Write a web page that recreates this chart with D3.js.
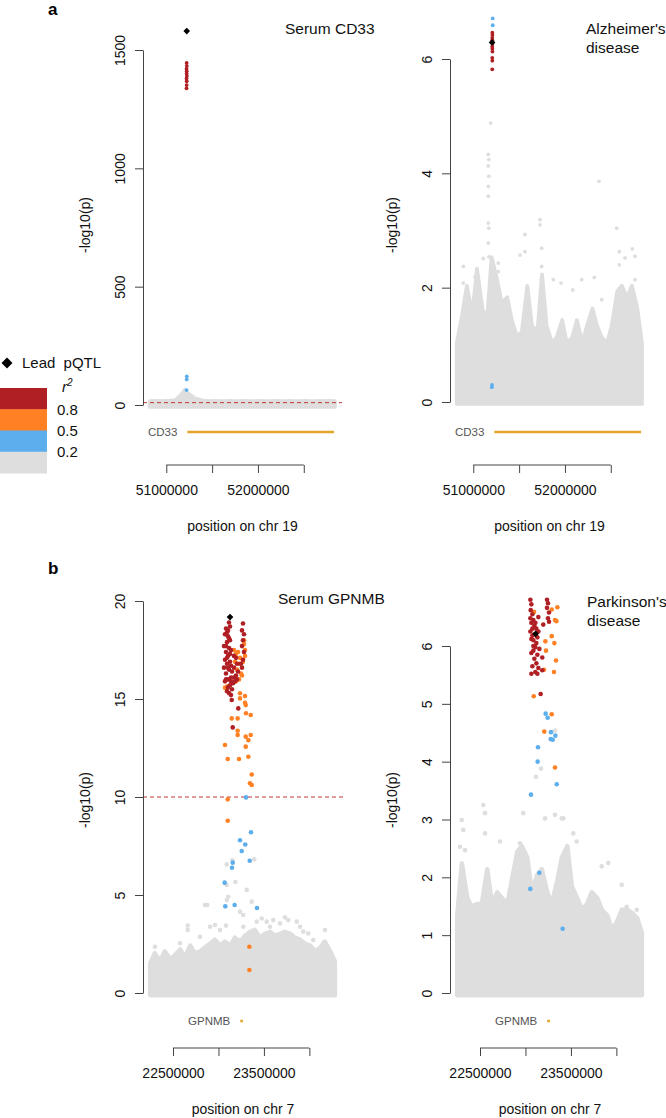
<!DOCTYPE html>
<html>
<head>
<meta charset="utf-8">
<script src="https://cdn.jsdelivr.net/npm/d3@7"></script>
<style>
body { margin: 0; background: #fff; }
svg { display: block; font-family: "Liberation Sans", Arial, Helvetica, sans-serif; }
</style>
</head>
<body>
<div id="chart"></div>
<script>
// LD classes: 0 = r2 < 0.2, 1 = 0.2-0.5, 2 = 0.5-0.8, 3 = > 0.8
const ldColors = ["#dedede", "#5daeec", "#ff8124", "#b01f24"];
const legendOrder = [3, 2, 1, 0];
const legendBreaks = ["0.8", "0.5", "0.2"];

// positions in Mb
const chr19Bins = [50.82, 50.88, 50.93, 50.99, 51.04, 51.10, 51.15, 51.20, 51.26, 51.31,
  51.37, 51.42, 51.48, 51.53, 51.59, 51.64, 51.70, 51.75, 51.80, 51.86,
  51.91, 51.97, 52.02, 52.08, 52.13, 52.19, 52.24, 52.30, 52.35, 52.40,
  52.46, 52.51, 52.57, 52.62, 52.68, 52.73, 52.79, 52.84];
const chr7Bins = [22.25, 22.30, 22.36, 22.41, 22.47, 22.52, 22.58, 22.63, 22.69, 22.74,
  22.80, 22.85, 22.91, 22.96, 23.02, 23.07, 23.13, 23.18, 23.24, 23.29,
  23.35, 23.40, 23.46, 23.51, 23.57, 23.62, 23.68, 23.73, 23.79, 23.84,
  23.90, 23.95, 24.01, 24.06, 24.12, 24.17, 24.23, 24.28];

// height of the dense grey cloud of background SNPs per bin (-log10 p)
const cd33Background = [8, 9, 8, 9, 10, 12, 30, 55, 35, 20, 14, 9, 8, 9, 8, 8, 9, 8, 8, 9,
  8, 8, 9, 8, 8, 9, 8, 8, 9, 8, 8, 9, 8, 8, 9, 8, 9, 8];
const adBackground = [1.0, 1.5, 2.0, 1.5, 2.3, 1.6, 1.4, 2.5, 2.1, 1.7, 1.8, 1.4, 1.1, 1.2, 2.0, 1.3, 1.2, 2.2, 1.3, 1.0,
  1.1, 1.4, 1.0, 1.1, 1.4, 1.0, 1.3, 1.6, 1.3, 1.1, 1.0, 1.3, 1.9, 2.0, 1.8, 2.0, 1.6, 1.0];
const gpnmbBackground = [1.4, 1.9, 1.5, 2.0, 1.6, 1.8, 2.1, 1.7, 2.3, 1.9, 2.0, 2.2, 2.4, 2.6, 2.3, 2.5, 2.3, 2.7, 2.5, 2.8,
  3.0, 3.1, 2.7, 2.9, 3.0, 2.8, 2.9, 3.0, 2.9, 2.7, 2.6, 2.4, 2.3, 2.0, 2.2, 2.5, 2.0, 1.5];
const pdBackground = [1.3, 2.2, 1.6, 1.45, 1.5, 1.5, 2.1, 1.5, 1.7, 1.6, 1.5, 1.9, 2.4, 2.5, 2.3, 1.7, 2.0, 2.1, 1.7, 1.5,
  1.9, 2.3, 2.5, 1.8, 1.6, 1.4, 1.5, 1.7, 1.6, 1.4, 1.3, 1.05, 1.2, 1.4, 1.4, 1.35, 1.25, 1.0];

// individual SNPs [position Mb, -log10 p, LD class]
const cd33Points = [
  [51.222, 1445, 3], [51.224, 1432, 3], [51.221, 1420, 3], [51.223, 1410, 3], [51.222, 1400, 3],
  [51.224, 1390, 3], [51.221, 1380, 3], [51.223, 1368, 3], [51.222, 1352, 3], [51.221, 1338, 3],
  [51.224, 121, 1], [51.223, 108, 1], [51.221, 63, 1]
];
const adPoints = [
  [51.212, 6.71, 1], [51.212, 6.59, 1], [51.205, 0.30, 1], [51.203, 0.26, 1],
  [51.208, 6.46, 3], [51.209, 6.42, 3], [51.207, 6.37, 3], [51.208, 6.33, 3], [51.209, 6.27, 3],
  [51.207, 6.22, 3], [51.208, 6.18, 3], [51.209, 6.13, 3], [51.207, 6.02, 3], [51.208, 5.97, 3], [51.207, 5.82, 3],
  [51.190, 4.88, 0], [51.164, 4.33, 0], [51.170, 4.24, 0], [51.164, 4.13, 0], [51.170, 3.95, 0],
  [51.164, 3.77, 0], [51.164, 3.60, 0], [51.164, 3.13, 0], [51.170, 3.04, 0], [51.164, 2.78, 0], [51.170, 2.54, 0],
  [50.891, 2.37, 0], [50.891, 2.08, 0], [51.019, 2.19, 0], [51.109, 2.51, 0], [51.273, 2.43, 0], [51.273, 2.28, 0],
  [51.510, 2.57, 0], [51.564, 2.93, 0], [51.564, 2.63, 0], [51.583, 1.96, 0], [51.728, 3.19, 0], [51.728, 3.10, 0],
  [51.746, 2.69, 0], [51.746, 2.37, 0], [51.740, 2.14, 0], [51.873, 2.14, 0], [51.957, 2.08, 0], [52.085, 1.96, 0],
  [52.183, 2.14, 0], [52.320, 2.18, 0], [52.401, 1.79, 0], [52.565, 3.04, 0], [52.593, 2.63, 0], [52.593, 2.40, 0],
  [52.655, 2.52, 0], [52.735, 2.68, 0], [52.764, 2.55, 0], [52.764, 2.14, 0], [52.372, 3.86, 0]
];
const gpnmbPoints = [
  [23.116, 18.9, 3], [23.127, 18.7, 3], [23.105, 18.5, 3], [23.083, 18.6, 3], [23.072, 18.3, 3], [23.105, 18.2, 3],
  [23.127, 18.0, 3], [23.094, 17.9, 3], [23.061, 17.7, 3], [23.116, 17.6, 3], [23.138, 17.5, 3], [23.083, 17.4, 3],
  [23.105, 17.2, 3], [23.072, 17.0, 3], [23.127, 16.9, 3], [23.094, 16.8, 3], [23.061, 16.6, 3], [23.116, 16.5, 3],
  [23.149, 16.4, 3], [23.083, 16.3, 3], [23.171, 16.6, 3], [23.193, 16.2, 3], [23.138, 16.1, 3], [23.105, 16.0, 3],
  [23.072, 15.9, 3], [23.160, 15.8, 3], [23.127, 15.7, 3], [23.182, 15.9, 3], [23.149, 15.5, 3], [23.116, 15.3, 3],
  [23.204, 16.0, 3], [23.094, 18.4, 3], [23.116, 18.1, 3], [23.083, 17.7, 3], [23.127, 17.3, 3], [23.094, 17.1, 3],
  [23.138, 16.7, 3], [23.105, 16.6, 3], [23.083, 16.0, 3], [23.138, 15.9, 3], [23.171, 16.1, 3], [23.105, 15.6, 3],
  [23.138, 15.2, 3], [23.094, 15.4, 3],
  [23.270, 18.85, 3], [23.259, 18.5, 3], [23.281, 18.3, 3], [23.270, 18.0, 3], [23.259, 17.7, 3], [23.281, 17.4, 3],
  [23.270, 17.0, 3], [23.248, 16.8, 3], [23.259, 16.6, 3], [23.204, 16.8, 3], [23.193, 17.1, 3], [23.215, 16.4, 3],
  [23.171, 17.2, 3], [23.218, 14.52, 3], [23.157, 13.55, 3], [23.146, 14.95, 3],
  [23.171, 17.5, 2], [23.193, 17.3, 2], [23.215, 17.4, 2], [23.237, 17.1, 2], [23.182, 16.9, 2], [23.226, 16.8, 2],
  [23.204, 16.5, 2], [23.248, 16.3, 2], [23.226, 16.0, 2], [23.193, 15.9, 2], [23.281, 18.0, 2], [23.292, 17.5, 2],
  [23.259, 16.2, 2], [23.281, 17.8, 2], [23.292, 17.2, 2], [23.270, 16.9, 2],
  [23.072, 15.58, 2], [23.100, 15.65, 2], [23.237, 15.29, 2], [23.237, 15.03, 2], [23.292, 15.15, 2], [23.292, 14.81, 2],
  [23.300, 14.69, 2], [23.146, 14.01, 2], [23.211, 14.01, 2], [23.303, 14.27, 2], [23.355, 14.18, 2], [23.211, 13.38, 2],
  [23.211, 13.16, 2], [23.300, 13.08, 2], [23.355, 13.16, 2], [23.329, 12.90, 2], [23.072, 12.65, 2], [23.300, 12.57, 2],
  [23.102, 11.94, 2], [23.226, 11.94, 2], [23.329, 12.05, 2], [23.366, 11.15, 2], [23.347, 10.70, 2], [23.366, 10.61, 2],
  [23.102, 9.88, 2], [23.102, 8.79, 2], [23.340, 2.36, 2], [23.340, 1.17, 2],
  [23.303, 9.98, 1], [23.358, 8.20, 1], [23.237, 7.79, 1], [23.295, 7.58, 1], [23.256, 7.24, 1], [23.344, 6.75, 1],
  [23.157, 6.65, 1], [23.149, 6.39, 1], [23.068, 5.63, 1], [23.075, 4.42, 1], [23.178, 4.49, 1], [23.424, 4.34, 1],
  [23.394, 6.82, 0], [23.091, 6.56, 0], [23.153, 6.78, 0], [23.186, 5.66, 0], [23.091, 5.51, 0], [23.311, 5.26, 0],
  [23.091, 4.74, 0], [23.108, 4.91, 0], [23.237, 4.15, 0], [23.273, 3.98, 0], [23.366, 4.66, 0], [22.852, 4.49, 0],
  [22.877, 4.49, 0], [22.662, 3.44, 0], [22.662, 3.21, 0], [22.907, 3.38, 0], [22.962, 3.47, 0], [23.083, 3.44, 0],
  [22.797, 2.87, 0], [22.577, 2.54, 0], [22.302, 2.36, 0], [23.476, 3.80, 0], [23.531, 3.64, 0], [23.603, 3.72, 0],
  [23.732, 3.86, 0], [23.768, 3.72, 0], [23.861, 3.64, 0], [23.897, 3.38, 0], [23.933, 3.13, 0], [23.988, 3.04, 0],
  [24.172, 3.21, 0], [24.043, 2.70, 0], [23.366, 3.13, 0], [23.421, 3.64, 0], [23.567, 3.38, 0], [23.677, 3.55, 0],
  [23.273, 3.38, 0], [23.017, 3.21, 0]
];
const pdPoints = [
  [23.054, 6.80, 3], [23.065, 6.72, 3], [23.058, 6.62, 3], [23.076, 6.55, 3], [23.054, 6.48, 3], [23.087, 6.45, 3],
  [23.065, 6.40, 3], [23.098, 6.35, 3], [23.076, 6.30, 3], [23.120, 6.30, 3], [23.054, 6.25, 3], [23.098, 6.20, 3],
  [23.131, 6.15, 3], [23.087, 6.10, 3], [23.065, 6.12, 3], [23.120, 6.05, 3], [23.142, 6.50, 3], [23.196, 6.37, 3],
  [23.109, 5.98, 3], [23.087, 5.92, 3], [23.131, 5.85, 3], [23.098, 5.78, 3], [23.120, 5.70, 3], [23.076, 5.65, 3],
  [23.142, 5.62, 3], [23.109, 5.55, 3], [23.131, 5.52, 3], [23.065, 5.52, 3], [23.185, 5.58, 3], [23.185, 5.80, 3],
  [23.076, 6.18, 3], [23.109, 6.40, 3], [23.087, 6.00, 3], [23.065, 5.88, 3], [23.142, 6.25, 3], [23.153, 5.95, 3],
  [23.237, 6.80, 3], [23.248, 6.74, 3], [23.237, 6.66, 3], [23.259, 6.58, 3], [23.248, 6.48, 3], [23.259, 6.42, 3],
  [23.167, 5.17, 3],
  [23.351, 6.67, 2], [23.289, 6.63, 2], [23.094, 6.59, 2], [23.325, 6.45, 2], [23.340, 6.43, 2], [23.289, 6.17, 2],
  [23.318, 6.05, 2], [23.219, 6.08, 2], [23.226, 5.92, 2], [23.336, 5.75, 2], [23.204, 5.59, 2], [23.314, 5.55, 2],
  [23.091, 5.13, 2], [23.289, 4.82, 2], [23.207, 4.52, 2], [23.325, 3.90, 2],
  [23.222, 4.83, 1], [23.244, 4.76, 1], [23.281, 4.51, 1], [23.329, 4.45, 1], [23.278, 4.39, 1], [23.300, 4.38, 1],
  [23.138, 4.25, 1], [23.134, 4.00, 1], [23.344, 3.61, 1], [23.061, 3.43, 1], [23.053, 1.80, 1], [23.152, 2.08, 1],
  [23.409, 1.11, 1],
  [23.325, 4.54, 0], [23.171, 3.88, 0], [23.116, 3.74, 0], [23.416, 3.02, 0], [22.299, 2.99, 0], [22.316, 2.82, 0],
  [22.280, 2.53, 0], [22.335, 2.47, 0], [22.537, 3.25, 0], [22.555, 3.11, 0], [22.555, 2.76, 0], [22.720, 2.62, 0],
  [22.976, 3.11, 0], [22.940, 2.59, 0], [23.215, 3.02, 0], [23.325, 3.08, 0], [23.399, 3.02, 0], [23.526, 2.76, 0],
  [23.563, 2.62, 0], [23.839, 2.19, 0], [23.911, 2.25, 0], [24.059, 1.87, 0], [24.114, 1.49, 0], [24.224, 1.44, 0]
];

// lead pQTL [position Mb, -log10 p]
const cd33Lead = [51.223, 1580];
const adLead = [51.205, 6.29];
const gpnmbLead = [23.127, 19.18];
const pdLead = [23.112, 6.21];

// genes [start Mb, end Mb]
const cd33Gene = [51.23, 52.83];
const gpnmbGene = [23.24, 23.27];

const cd33Ticks = [0, 500, 1000, 1500];
const adTicks = [0, 2, 4, 6];
const gpnmbTicks = [0, 5, 10, 15, 20];
const pdTicks = [0, 1, 2, 3, 4, 5, 6];
const chr19Ticks = [51000000, 51500000, 52000000, 52500000];
const chr19Labels = [51000000, 52000000];
const chr7Ticks = [22500000, 23000000, 23500000, 24000000];
const chr7Labels = [22500000, 23500000];

const width = 666, height = 1118;
const axisColor = "#444";
const geneColor = "#e3a52a";

const svg = d3.select("#chart").append("svg")
    .attr("width", width)
    .attr("height", height);

const panels = [
  {title: ["Serum CD33"], tx: 285, ty: 34, bins: chr19Bins, bg: cd33Background, pts: cd33Points, lead: cd33Lead,
   xDomain: [50.746, 52.917], left: 143, right: 342, yTicks: cd33Ticks, yRange: [405, 50], threshold: 10,
   xTicks: chr19Ticks, xLabels: chr19Labels, axisY: 465, xTitle: "position on chr 19",
   gene: cd33Gene, geneName: "CD33", geneY: 432, labelY: 225, r: 1.9},
  {title: ["Alzheimer's", "disease"], tx: 586, ty: 34, bins: chr19Bins, bg: adBackground, pts: adPoints, lead: adLead,
   xDomain: [50.746, 52.917], left: 450, right: 649, yTicks: adTicks, yRange: [402, 59], threshold: null,
   xTicks: chr19Ticks, xLabels: chr19Labels, axisY: 465, xTitle: "position on chr 19",
   gene: cd33Gene, geneName: "CD33", geneY: 432, labelY: 225, r: 1.9},
  {title: ["Serum GPNMB"], tx: 278, ty: 604, bins: chr7Bins, bg: gpnmbBackground, pts: gpnmbPoints, lead: gpnmbLead,
   xDomain: [22.17, 24.37], left: 143, right: 343, yTicks: gpnmbTicks, yRange: [993, 601], threshold: 10,
   xTicks: chr7Ticks, xLabels: chr7Labels, axisY: 1048, xTitle: "position on chr 7",
   gene: gpnmbGene, geneName: "GPNMB", geneY: 1021, labelY: 800, r: 2.3},
  {title: ["Parkinson's", "disease"], tx: 587, ty: 607, bins: chr7Bins, bg: pdBackground, pts: pdPoints, lead: pdLead,
   xDomain: [22.17, 24.37], left: 450, right: 650, yTicks: pdTicks, yRange: [993, 646], threshold: null,
   xTicks: chr7Ticks, xLabels: chr7Labels, axisY: 1048, xTitle: "position on chr 7",
   gene: gpnmbGene, geneName: "GPNMB", geneY: 1021, labelY: 800, r: 2.3}
];

function drawPanel(p) {
  const g = svg.append("g");
  const x = d3.scaleLinear().domain(p.xDomain.map(d => d * 1e6)).range([p.left, p.right]);
  const y = d3.scaleLinear().domain([0, p.yTicks[p.yTicks.length - 1]]).range(p.yRange);

  /* dense background SNPs: a grey cloud whose top follows the bin heights */
  const cloud = d3.area()
    .x(d => x(d * 1e6))
    .y0(y(0) + p.r)
    .y1((d, i) => y(p.bg[i]) - p.r)
    .curve(d3.curveLinear);
  g.append("path")
    .datum(p.bins)
    .attr("d", cloud)
    .attr("fill", ldColors[0])
    .attr("stroke", ldColors[0])
    .attr("stroke-width", 2 * p.r)
    .attr("stroke-linejoin", "round");

  if (p.threshold !== null) {
    g.append("line")
      .attr("x1", p.left).attr("x2", p.right)
      .attr("y1", y(p.threshold)).attr("y2", y(p.threshold))
      .attr("stroke", "#c0393b")
      .attr("stroke-width", 1)
      .attr("stroke-dasharray", "4,3");
  }

  const pts = p.pts.slice().sort((a, b) => a[2] - b[2]);
  g.append("g").selectAll("circle")
    .data(pts)
    .join("circle")
    .attr("cx", d => x(d[0] * 1e6))
    .attr("cy", d => y(d[1]))
    .attr("r", p.r)
    .attr("fill", d => ldColors[d[2]]);

  g.append("path")
    .attr("d", d3.symbol(d3.symbolSquare, 22)())
    .attr("transform", "translate(" + x(p.lead[0] * 1e6) + "," + y(p.lead[1]) + ") rotate(45)")
    .attr("fill", "#000");

  /* y axis, labels parallel to the axis like base R */
  const ya = g.append("g")
    .attr("transform", "translate(" + p.left + ",0)")
    .call(d3.axisLeft(y).tickValues(p.yTicks).tickSize(8).tickSizeOuter(0).tickFormat(d3.format("d")));
  ya.select(".domain").attr("stroke", axisColor);
  ya.selectAll(".tick line").attr("stroke", axisColor);
  ya.selectAll(".tick text")
    .attr("transform", "rotate(-90)")
    .attr("x", 0).attr("y", -18).attr("dy", 0)
    .attr("text-anchor", "middle")
    .attr("font-size", 14)
    .attr("font-family", "Liberation Sans, Arial, sans-serif")
    .attr("fill", "#111");

  g.append("text")
    .attr("transform", "translate(" + (p.left - 53) + "," + p.labelY + ") rotate(-90)")
    .attr("text-anchor", "middle")
    .attr("font-size", 14)
    .attr("fill", "#111")
    .text("-log10(p)");

  /* x axis sits below the gene track */
  const xa = g.append("g")
    .attr("transform", "translate(0," + p.axisY + ")")
    .call(d3.axisBottom(x).tickValues(p.xTicks).tickSize(8).tickSizeOuter(0)
      .tickFormat(d => p.xLabels.includes(d) ? String(d) : ""));
  xa.select(".domain").remove();
  xa.append("line")
    .attr("x1", x(p.xTicks[0])).attr("x2", x(p.xTicks[p.xTicks.length - 1]))
    .attr("stroke", axisColor);
  xa.selectAll(".tick line").attr("stroke", axisColor);
  xa.selectAll(".tick text")
    .attr("y", 20)
    .attr("font-size", 14)
    .attr("font-family", "Liberation Sans, Arial, sans-serif")
    .attr("fill", "#111");

  g.append("text")
    .attr("x", (p.left + p.right) / 2)
    .attr("y", p.axisY + 66)
    .attr("text-anchor", "middle")
    .attr("font-size", 14)
    .attr("fill", "#111")
    .text(p.xTitle);

  /* gene track */
  g.append("line")
    .attr("x1", x(p.gene[0] * 1e6)).attr("x2", x(p.gene[1] * 1e6))
    .attr("y1", p.geneY).attr("y2", p.geneY)
    .attr("stroke", geneColor)
    .attr("stroke-width", 2.5);
  g.append("text")
    .attr("x", x(p.gene[0] * 1e6) - 10)
    .attr("y", p.geneY + 4)
    .attr("text-anchor", "end")
    .attr("font-size", 11.5)
    .attr("fill", "#555")
    .text(p.geneName);

  const t = g.append("text")
    .attr("x", p.tx).attr("y", p.ty)
    .attr("font-size", 15.5)
    .attr("fill", "#111");
  t.selectAll("tspan")
    .data(p.title)
    .join("tspan")
    .attr("x", p.tx)
    .attr("dy", (d, i) => i === 0 ? 0 : 18.5)
    .text(d => d);
}

panels.forEach(drawPanel);

svg.append("text").attr("x", 48).attr("y", 15).attr("font-size", 17).attr("font-weight", "bold").text("a");
svg.append("text").attr("x", 48).attr("y", 574).attr("font-size", 17).attr("font-weight", "bold").text("b");

/* legend */
const legend = svg.append("g");
legend.append("path")
  .attr("d", d3.symbol(d3.symbolSquare, 60)())
  .attr("transform", "translate(7,363) rotate(45)")
  .attr("fill", "#000");
legend.append("text")
  .attr("x", 22).attr("y", 368)
  .attr("font-size", 15)
  .attr("word-spacing", 4)
  .attr("fill", "#111")
  .text("Lead pQTL");
const r2 = legend.append("text")
  .attr("x", 62).attr("y", 392)
  .attr("font-size", 15)
  .attr("font-style", "italic")
  .attr("fill", "#111");
r2.append("tspan").text("r");
r2.append("tspan").attr("dy", -6).attr("font-size", 10).text("2");

const band = d3.scaleBand().domain(legendOrder).range([388, 473]);
legend.selectAll("rect")
  .data(legendOrder)
  .join("rect")
  .attr("x", 0)
  .attr("y", d => band(d))
  .attr("width", 47)
  .attr("height", band.bandwidth() + 0.5)
  .attr("fill", d => ldColors[d]);
legend.selectAll("text.brk")
  .data(legendBreaks)
  .join("text")
  .attr("class", "brk")
  .attr("x", 57)
  .attr("y", (d, i) => band(legendOrder[i]) + band.bandwidth())
  .attr("dy", "0.36em")
  .attr("font-size", 15)
  .attr("fill", "#111")
  .text(d => d);
</script>
</body>
</html>
